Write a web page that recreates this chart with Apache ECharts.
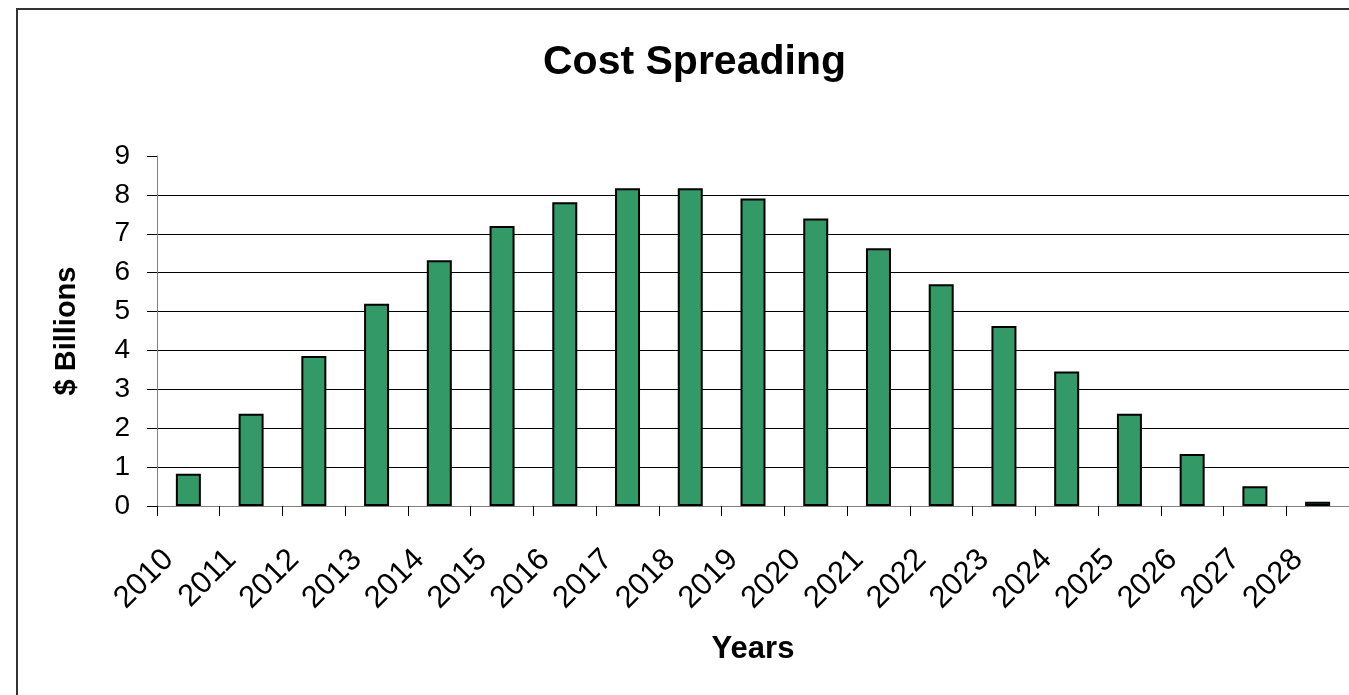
<!DOCTYPE html>
<html>
<head>
<meta charset="utf-8">
<script src="https://cdn.jsdelivr.net/npm/echarts@6/dist/echarts.min.js"></script>
<style>
  html, body { margin: 0; padding: 0; background: #fff; }
  #chart { width: 1349px; height: 695px; }
</style>
</head>
<body>
<div id="chart"></div>
<script>
  // data
  const years = ['2010', '2011', '2012', '2013', '2014', '2015', '2016', '2017', '2018', '2019',
    '2020', '2021', '2022', '2023', '2024', '2025', '2026', '2027', '2028']
  const costs = [0.83, 2.37, 3.86, 5.2, 6.32, 7.2, 7.81, 8.17, 8.17, 7.91,
    7.39, 6.63, 5.7, 4.63, 3.46, 2.37, 1.34, 0.51, 0.11]
  const yTicks = { min: 0, max: 9, interval: 1 }

  const font = 'Liberation Sans, Arial, sans-serif'
  // gridline colours per tick: 0 is the axis itself, no line at the top (9)
  const splitColors = ['#808080', '#000', '#000', '#000', '#000', '#000', '#000', '#000', '#000', 'rgba(0,0,0,0)']

  let myChart = echarts.init(document.getElementById('chart'))
  myChart.setOption({
    animation: false,
    backgroundColor: '#fff',
    title: {
      text: 'Cost Spreading',
      left: 538,
      top: 37,
      textStyle: { fontFamily: font, fontSize: 41, fontWeight: 'bold', color: '#000' }
    },
    graphic: [
      {
        type: 'rect',
        shape: { x: 17, y: 9, width: 1400, height: 800 },
        style: { fill: 'none', stroke: '#333', lineWidth: 2 },
        silent: true
      }
    ],
    grid: {
      left: 157,
      top: 156,
      width: 1195,
      height: 350
    },
    xAxis: {
      type: 'category',
      data: years,
      name: 'Years',
      nameLocation: 'middle',
      nameGap: 128,
      nameTextStyle: { fontFamily: font, fontSize: 31, fontWeight: 'bold', color: '#000' },
      axisLine: { lineStyle: { color: '#808080', width: 1 } },
      axisTick: { show: true, length: 10, lineStyle: { color: '#000' } },
      axisLabel: {
        interval: 0,
        rotate: 45,
        margin: 29,
        padding: [0, 28, 28, 0],
        fontFamily: font,
        fontSize: 31,
        color: '#000'
      }
    },
    yAxis: {
      type: 'value',
      min: yTicks.min,
      max: yTicks.max,
      interval: yTicks.interval,
      name: '$ Billions',
      nameLocation: 'middle',
      nameRotate: 90,
      nameGap: 76,
      nameTextStyle: { fontFamily: font, fontSize: 29, fontWeight: 'bold', color: '#000' },
      axisLine: { show: true, lineStyle: { color: '#808080', width: 1 } },
      axisTick: { show: true, length: 10, lineStyle: { color: '#000' } },
      axisLabel: { margin: 27, fontFamily: font, fontSize: 28, color: '#000' },
      splitLine: { show: true, lineStyle: { color: splitColors, width: 1 } }
    },
    series: [
      {
        type: 'bar',
        data: costs,
        barWidth: 25,
        itemStyle: { color: '#339966', borderColor: '#000', borderWidth: 2 }
      }
    ]
  })
  window.addEventListener('resize', function () {
    myChart.resize()
  })
</script>
</body>
</html>
